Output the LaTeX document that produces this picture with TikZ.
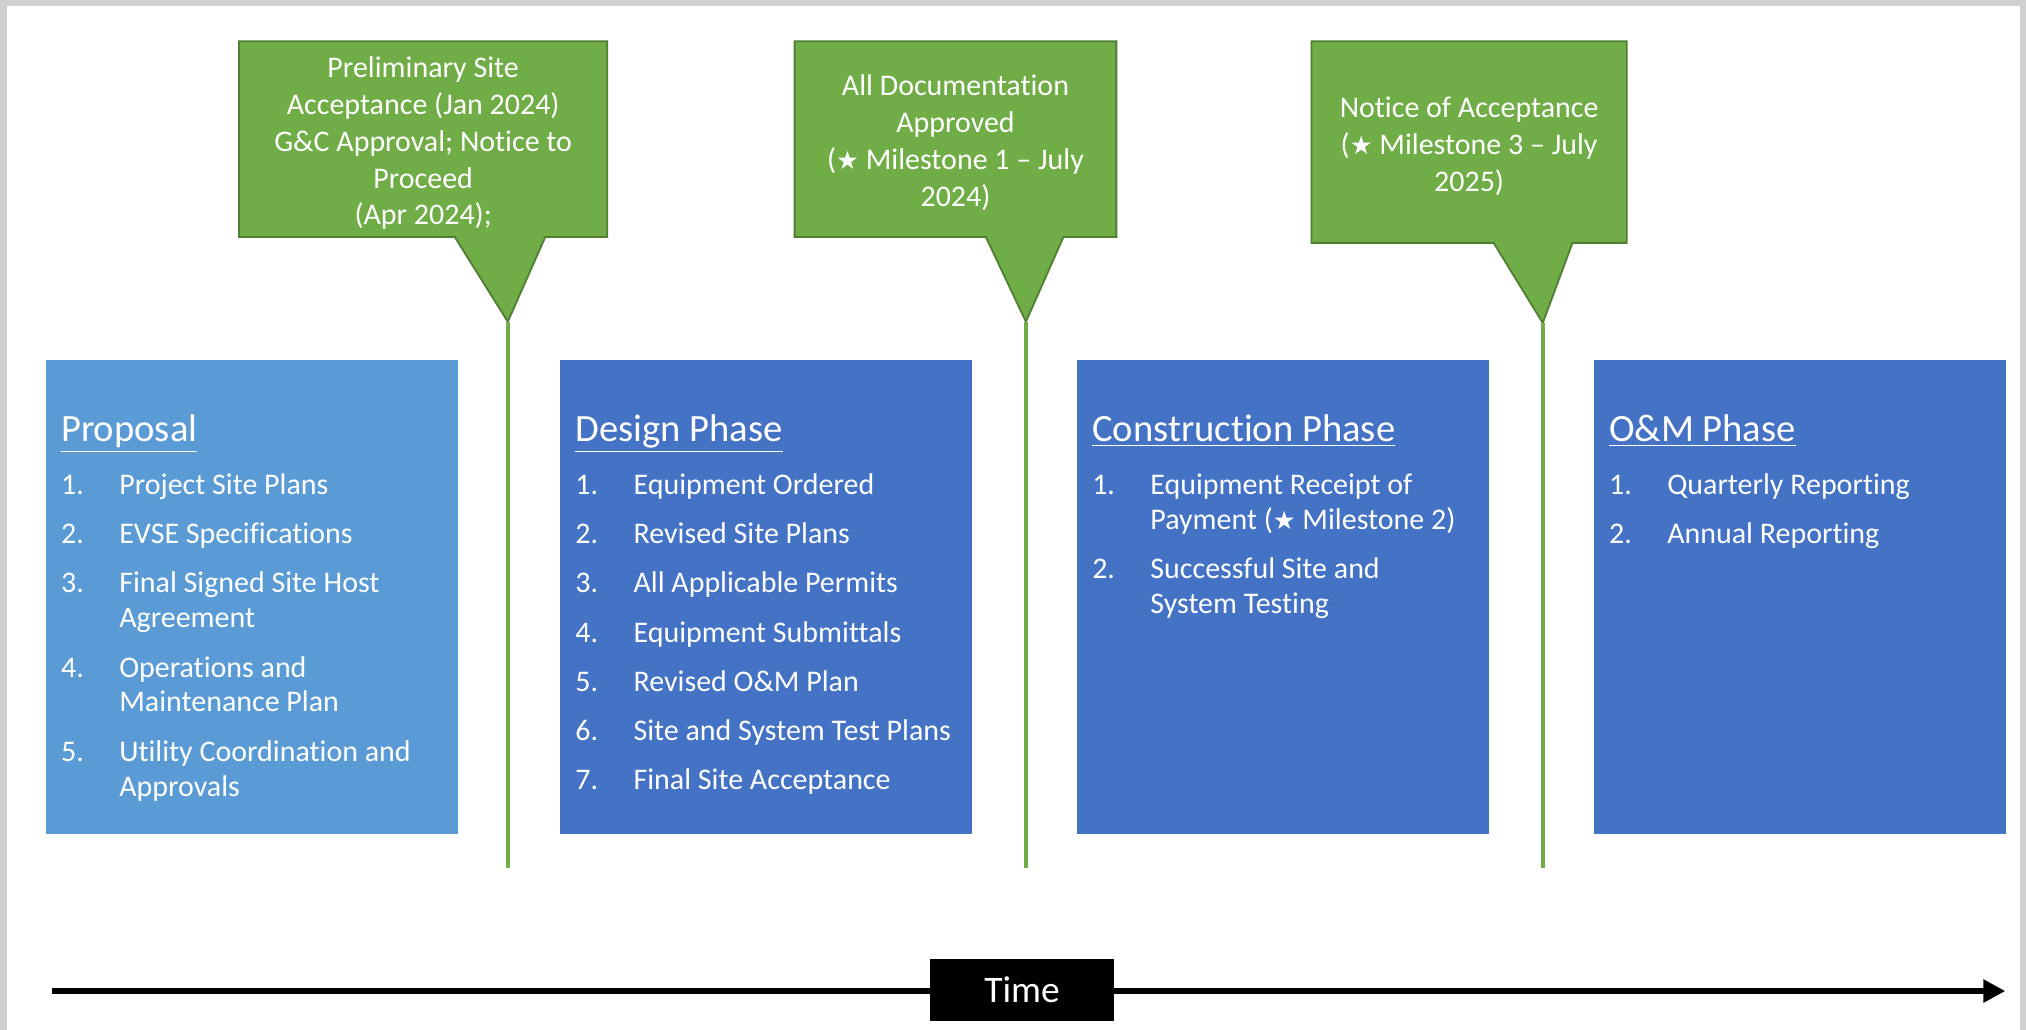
\documentclass[tikz,border=0pt]{standalone}
\usepackage{fontspec}
\setmainfont{Carlito}[Ligatures=NoCommon]
\newfontfamily\symfont{DejaVu Sans}
\usepackage{tikz}
\usetikzlibrary{arrows.meta}
\definecolor{propblue}{HTML}{5B9BD5}
\definecolor{phaseblue}{HTML}{4472C4}
\definecolor{msgreen}{HTML}{70AD47}
\definecolor{msdkgreen}{HTML}{507E32}
\definecolor{framegray}{HTML}{D0D0D0}
\newcommand{\mstar}{{\symfont\scalebox{0.85}{★}}}

\begin{document}
\begin{tikzpicture}
\useasboundingbox (0,0) rectangle (31.36,15.94);
\tikzset{phase/.style = {minimum width=6.38cm, minimum height=7.34cm, inner sep=0, anchor=north west},
         title/.style = {text=white, inner sep=0, anchor=base west, font=\fontsize{17}{20}\selectfont},
         items/.style = {text=white, inner sep=0, anchor=base west, font=\fontsize{13.2}{15.4}\selectfont},
         callout/.style = {fill=msgreen, draw=msdkgreen, line width=0.8pt, line join=miter},
         note/.style = {text=white, align=center, inner sep=0, font=\fontsize{13.2}{16.2}\selectfont},
         mline/.style = {msgreen, line width=1.7pt}}
%frame
\fill[framegray] (0,0) rectangle (31.36,15.94);
\fill[white] (0.11,0) rectangle (31.26,15.85);
%milestone 1
\coordinate (p1) at (7.86,10.96); \coordinate (e1) at (7.86,2.50);
\draw[callout] (3.70,15.30) -- (9.40,15.30) -- (9.40,12.27) -- (8.44,12.27) -- (p1) -- (7.04,12.27) -- (3.70,12.27) -- cycle;
\node[note] (c1) at (6.55,13.72) {Preliminary Site\\Acceptance (Jan 2024)\\G\&C Approval; Notice to\\Proceed\\(Apr 2024);};
\draw[mline] (p1) -- (e1);
%milestone 2
\coordinate (p2) at (15.88,10.96); \coordinate (e2) at (15.88,2.50);
\draw[callout] (12.30,15.30) -- (17.28,15.30) -- (17.28,12.27) -- (16.46,12.27) -- (p2) -- (15.26,12.27) -- (12.30,12.27) -- cycle;
\node[note] (c2) at (14.79,13.73) {All Documentation\\Approved\\(\mstar{} Milestone 1 -- July\\2024)};
\draw[mline] (p2) -- (e2);
%milestone 3
\coordinate (p3) at (23.88,10.94); \coordinate (e3) at (23.88,2.50);
\draw[callout] (20.30,15.30) -- (25.18,15.30) -- (25.18,12.18) -- (24.34,12.18) -- (p3) -- (23.12,12.18) -- (20.30,12.18) -- cycle;
\node[note] (c3) at (22.74,13.68) {Notice of Acceptance\\(\mstar{} Milestone 3 -- July\\2025)};
\draw[mline] (p3) -- (e3);
%proposal
\node[phase, fill=propblue] (prop) at (0.70,10.38) {};
\node[title] (propt) at (0.94,9.10) {\underline{Proposal}};
\node[items] (propl) at (0.94,8.29) {\begin{tabular}[t]{@{}p{0.9cm}@{}l@{}}
1. & Project Site Plans\\[6.3pt]
2. & EVSE Specifications\\[6.3pt]
3. & Final Signed Site Host\\
   & Agreement\\[6.3pt]
4. & Operations and\\
   & Maintenance Plan\\[6.3pt]
5. & Utility Coordination and\\
   & Approvals
\end{tabular}};
%design phase
\node[phase, fill=phaseblue] (des) at (8.66,10.38) {};
\node[title] (dest) at (8.90,9.10) {\underline{Design Phase}};
\node[items] (desl) at (8.90,8.29) {\begin{tabular}[t]{@{}p{0.9cm}@{}l@{}}
1. & Equipment Ordered\\[6.3pt]
2. & Revised Site Plans\\[6.3pt]
3. & All Applicable Permits\\[6.3pt]
4. & Equipment Submittals\\[6.3pt]
5. & Revised O\&M Plan\\[6.3pt]
6. & Site and System Test Plans\\[6.3pt]
7. & Final Site Acceptance
\end{tabular}};
%construction phase
\node[phase, fill=phaseblue] (cons) at (16.66,10.38) {};
\node[title] (const) at (16.90,9.10) {\underline{Construction Phase}};
\node[items] (consl) at (16.90,8.29) {\begin{tabular}[t]{@{}p{0.9cm}@{}l@{}}
1. & Equipment Receipt of\\
   & Payment (\mstar{} Milestone 2)\\[6.3pt]
2. & Successful Site and\\
   & System Testing
\end{tabular}};
%o&m phase
\node[phase, fill=phaseblue] (om) at (24.66,10.38) {};
\node[title] (omt) at (24.90,9.10) {\underline{O\&M Phase}};
\node[items] (oml) at (24.90,8.29) {\begin{tabular}[t]{@{}p{0.9cm}@{}l@{}}
1. & Quarterly Reporting\\[6.3pt]
2. & Annual Reporting
\end{tabular}};
%time axis
\coordinate (t0) at (0.80,0.60); \coordinate (t1) at (31.04,0.60);
\draw[line width=2.4pt, -{Triangle[length=0.34cm,width=0.34cm]}] (t0) -- (t1);
\node[fill=black, text=white, minimum width=2.84cm, minimum height=0.96cm, font=\fontsize{16.5}{19}\selectfont] (time) at (15.82,0.62) {Time};
\end{tikzpicture}
\end{document}
